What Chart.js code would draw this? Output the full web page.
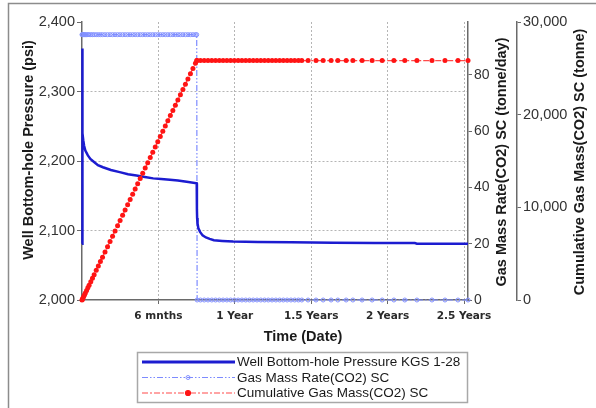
<!DOCTYPE html>
<html>
<head>
<meta charset="utf-8">
<script src="https://cdn.jsdelivr.net/npm/chart.js@4.4.1/dist/chart.umd.min.js"></script>
<style>
    html, body { margin: 0; padding: 0; background: #fff; }
    #chartContainer { width: 596px; height: 408px; }
</style>
</head>
<body>
<div id="chartContainer"><canvas id="chartCanvas" width="596" height="408"></canvas></div>
<script>
// x axis is days since injection start
const xTickDays = [182.5, 365, 547.5, 730, 912.5];
const xTickLabels = ['6 mnths', '1 Year', '1.5 Years', '2 Years', '2.5 Years'];

// well bottom-hole pressure (psi)
const pressureDays = [0, 0.2, 1, 2, 3, 5, 8, 14, 20, 28, 38, 50, 69, 90, 110, 130, 150, 170, 189, 210,
    229, 250, 274, 274.5, 275, 276, 278, 282, 288, 296, 305, 315, 335, 361, 420, 500, 600, 700, 795, 800, 922];
const pressurePsi = [2081, 2362, 2270, 2240, 2230, 2222, 2215, 2208, 2203, 2199, 2194, 2191, 2187, 2184, 2181, 2179, 2177, 2175, 2174, 2173,
    2172, 2170, 2168, 2130, 2118, 2110, 2103, 2098, 2093, 2090, 2088, 2086, 2085, 2084, 2083.5, 2083, 2082.5, 2082, 2082, 2081, 2081];

// report steps shared by the rate and cumulative curves
const stepDays = [0, 1, 2, 4, 6, 8, 11, 14, 17, 21, 25, 29, 34, 39, 44, 49, 55, 61, 67, 73,
    79, 85, 91, 97, 103, 109, 115, 121, 127, 133, 139, 145, 151, 157, 163, 169, 175, 181, 187, 193,
    199, 205, 211, 217, 223, 229, 235, 241, 247, 253, 259, 265, 271, 274,
    275, 283, 292, 301, 310, 319, 328, 337, 346, 355, 364, 373, 382, 391, 400, 409, 418, 427, 436, 445,
    454, 463, 472, 481, 490, 499, 508, 517, 525, 540, 559, 576, 595, 611, 631, 647, 669, 693, 717, 745,
    771, 800, 836, 867, 898, 922];

// gas mass rate (tonne/day)
const gasRate = [94.3, 94.3, 94.3, 94.3, 94.3, 94.3, 94.3, 94.3, 94.3, 94.3, 94.3, 94.3, 94.3, 94.3, 94.3, 94.3, 94.3, 94.3, 94.3, 94.3,
    94.3, 94.3, 94.3, 94.3, 94.3, 94.3, 94.3, 94.3, 94.3, 94.3, 94.3, 94.3, 94.3, 94.3, 94.3, 94.3, 94.3, 94.3, 94.3, 94.3,
    94.3, 94.3, 94.3, 94.3, 94.3, 94.3, 94.3, 94.3, 94.3, 94.3, 94.3, 94.3, 94.3, 94.3,
    0, 0, 0, 0, 0, 0, 0, 0, 0, 0, 0, 0, 0, 0, 0, 0, 0, 0, 0, 0,
    0, 0, 0, 0, 0, 0, 0, 0, 0, 0, 0, 0, 0, 0, 0, 0, 0, 0, 0, 0,
    0, 0, 0, 0, 0, 0];

// cumulative gas mass (tonne)
const cumMass = [0, 94, 189, 377, 566, 754, 1037, 1320, 1603, 1980, 2358, 2735, 3206, 3678, 4149, 4621, 5187, 5752, 6318, 6884,
    7450, 8016, 8581, 9147, 9713, 10279, 10845, 11410, 11976, 12542, 13108, 13674, 14239, 14805, 15371, 15937, 16503, 17068, 17634, 18200,
    18766, 19332, 19897, 20463, 21029, 21595, 22161, 22726, 23292, 23858, 24424, 24990, 25555, 25838,
    25838, 25838, 25838, 25838, 25838, 25838, 25838, 25838, 25838, 25838, 25838, 25838, 25838, 25838, 25838, 25838, 25838, 25838, 25838, 25838,
    25838, 25838, 25838, 25838, 25838, 25838, 25838, 25838, 25838, 25838, 25838, 25838, 25838, 25838, 25838, 25838, 25838, 25838, 25838, 25838,
    25838, 25838, 25838, 25838, 25838, 25838];

const seriesNames = ['Well Bottom-hole Pressure KGS 1-28', 'Gas Mass Rate(CO2) SC', 'Cumulative Gas Mass(CO2) SC'];

const FONT = '"Liberation Sans", Arial, sans-serif';
const AXIS = '#6a6a6a';
const GRID = '#b5b5b5';

function toPoints(xs, ys) {
    return xs.map((e, i) => ({x: e, y: ys[i]}));
}

// grey frame round the picture
const frame = {
    id: 'frame',
    beforeDraw(chart) {
        const ctx = chart.ctx;
        ctx.save();
        ctx.fillStyle = '#fff';
        ctx.fillRect(0, 0, chart.width, chart.height);
        ctx.strokeStyle = '#8c8c8c';
        ctx.lineWidth = 1.5;
        ctx.beginPath();
        ctx.moveTo(8.5, chart.height);
        ctx.lineTo(8.5, 3.5);
        ctx.lineTo(chart.width, 3.5);
        ctx.stroke();
        ctx.restore();
    }
};

// axis titles (right ones read bottom to top, like the left one)
const axisTitles = {
    id: 'axisTitles',
    afterDraw(chart) {
        const ctx = chart.ctx;
        const titles = [
            {text: 'Well Bottom-hole Pressure (psi)', x: 28.5, y: 150, rot: true},
            {text: 'Time (Date)', x: 303, y: 337, rot: false},
            {text: 'Gas Mass Rate(CO2) SC (tonne/day)', x: 502, y: 162, rot: true},
            {text: 'Cumulative Gas Mass(CO2) SC (tonne)', x: 580, y: 162, rot: true}
        ];
        ctx.save();
        ctx.font = 'bold 14.5px ' + FONT;
        ctx.fillStyle = '#1a1a1a';
        ctx.textAlign = 'center';
        ctx.textBaseline = 'middle';
        titles.forEach(t => {
            ctx.save();
            ctx.translate(t.x, t.y);
            if (t.rot) ctx.rotate(-Math.PI / 2);
            ctx.fillText(t.text, 0, 0);
            ctx.restore();
        });
        ctx.restore();
    }
};

// boxed legend under the axis title
const legendBox = {
    id: 'legendBox',
    afterDraw(chart) {
        const ctx = chart.ctx;
        ctx.save();
        ctx.strokeStyle = '#a8a8a8';
        ctx.lineWidth = 1.5;
        ctx.strokeRect(137.5, 352.5, 330, 50);
        ctx.font = '13.5px ' + FONT;
        ctx.textBaseline = 'middle';
        chart.data.datasets.forEach((ds, i) => {
            const y = 362 + i * 15.5;
            ctx.save();
            ctx.strokeStyle = ds.borderColor;
            ctx.lineWidth = ds.legendWidth || ds.borderWidth;
            ctx.setLineDash(ds.borderDash || []);
            ctx.beginPath();
            ctx.moveTo(142, y);
            ctx.lineTo(235, y);
            ctx.stroke();
            ctx.setLineDash([]);
            if (ds.pointRadius > 0) {
                ctx.beginPath();
                ctx.arc(188, y, ds.pointRadius, 0, Math.PI * 2);
                ctx.fillStyle = ds.pointBackgroundColor;
                ctx.fill();
                ctx.lineWidth = ds.pointBorderWidth;
                ctx.strokeStyle = ds.pointBorderColor;
                ctx.stroke();
            }
            ctx.restore();
            ctx.fillStyle = '#1a1a1a';
            ctx.fillText(ds.label, 237, y + 0.5);
        });
        ctx.restore();
    }
};

const ctx = document.getElementById('chartCanvas').getContext('2d');
new Chart(ctx, {
    type: 'line',
    data: {
        datasets: [{
            label: seriesNames[0],
            data: toPoints(pressureDays, pressurePsi),
            yAxisID: 'y',
            borderColor: '#1c1cd0',
            borderWidth: 2.5,
            legendWidth: 3,
            pointRadius: 0,
            tension: 0,
            order: 1,
            clip: 4
        }, {
            label: seriesNames[1],
            data: toPoints(stepDays, gasRate),
            yAxisID: 'y1',
            borderColor: '#7d8bff',
            borderWidth: 1.2,
            borderDash: [6, 2, 1.5, 2, 1.5, 2],
            pointRadius: 2,
            pointBorderWidth: 1,
            pointBorderColor: '#8391ff',
            pointBackgroundColor: 'rgba(255,255,255,0)',
            tension: 0,
            order: 2,
            clip: 4
        }, {
            label: seriesNames[2],
            data: toPoints(stepDays, cumMass),
            yAxisID: 'y2',
            borderColor: '#ff4a4a',
            borderWidth: 1.2,
            borderDash: [6, 2, 2, 2],
            pointRadius: 2.5,
            pointBorderWidth: 0,
            pointBorderColor: '#ff1414',
            pointBackgroundColor: '#ff1414',
            tension: 0,
            order: 0,
            clip: 4
        }]
    },
    options: {
        responsive: false,
        animation: false,
        layout: {padding: {top: 22, left: 0, right: 0, bottom: 0}},
        plugins: {
            legend: {display: false},
            tooltip: {enabled: false}
        },
        scales: {
            x: {
                type: 'linear',
                min: 0,
                max: 922,
                afterFit: s => { s.height = 108; },
                afterBuildTicks: s => { s.ticks = xTickDays.map(v => ({value: v})); },
                grid: {color: GRID, tickColor: AXIS, tickLength: 4, lineWidth: 1},
                border: {color: AXIS, width: 1.5, dash: [2, 2]},
                ticks: {
                    autoSkip: false,
                    maxRotation: 0,
                    padding: 6,
                    color: '#2a2a2a',
                    font: {family: '"DejaVu Sans", sans-serif', weight: 'bold', size: 10.5},
                    callback: (value, index) => xTickLabels[index]
                }
            },
            y: {
                position: 'left',
                min: 2000,
                max: 2400,
                afterFit: s => { s.width = 82; },
                grid: {
                    color: c => (c.tick && (c.tick.value === 2400 || c.tick.value === 2000)) ? 'rgba(0,0,0,0)' : GRID,
                    tickColor: AXIS,
                    tickLength: 5
                },
                border: {color: AXIS, width: 1.5, dash: [2, 2]},
                ticks: {stepSize: 100, padding: 2, color: '#333', font: {family: FONT, size: 14.5}}
            },
            y1: {
                position: 'right',
                min: 0,
                max: 98.8,
                afterFit: s => { s.width = 49; },
                grid: {drawOnChartArea: false, tickColor: AXIS, tickLength: 4},
                border: {color: AXIS, width: 1.5},
                ticks: {stepSize: 20, includeBounds: false, padding: 2, color: '#333', font: {family: FONT, size: 14}}
            },
            y2: {
                position: 'right',
                min: 0,
                max: 30000,
                afterFit: s => { s.width = 79; },
                grid: {drawOnChartArea: false, tickColor: AXIS, tickLength: 4},
                border: {color: AXIS, width: 1.5},
                ticks: {stepSize: 10000, padding: 2, color: '#333', font: {family: FONT, size: 14.5}}
            }
        }
    },
    plugins: [frame, axisTitles, legendBox]
});
</script>
</body>
</html>
